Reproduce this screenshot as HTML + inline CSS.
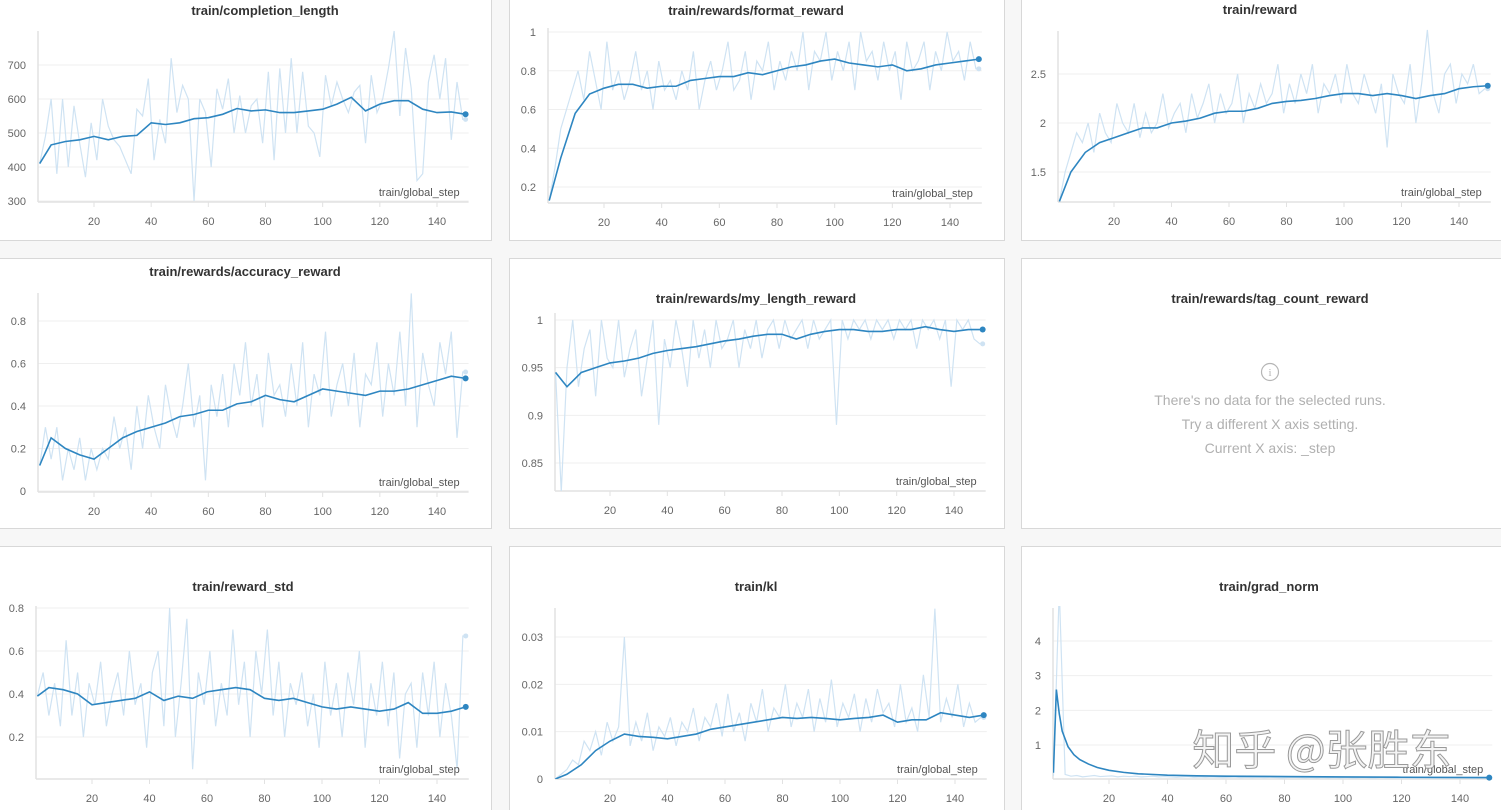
<!DOCTYPE html>
<html><head><meta charset="utf-8">
<style>
html,body{margin:0;padding:0;background:#f7f7f7;width:1501px;height:810px;overflow:hidden;font-family:"Liberation Sans","Noto Sans CJK SC",sans-serif;}
svg{display:block}
</style></head>
<body>
<svg id="root" width="1501" height="810" viewBox="0 0 1501 810" xmlns="http://www.w3.org/2000/svg">
<g id="panels"></g>
<g id="charts"></g>
<g>
<circle cx="1270" cy="372" r="8.5" fill="none" stroke="#b5b5b5" stroke-width="1.2"/>
<text x="1270" y="376" text-anchor="middle" font-size="11" fill="#b5b5b5" font-family="Liberation Serif, serif">i</text>
<text x="1270" y="405" text-anchor="middle" font-size="14" fill="#b0b0b0">There's no data for the selected runs.</text>
<text x="1270" y="429" text-anchor="middle" font-size="14" fill="#b0b0b0">Try a different X axis setting.</text>
<text x="1270" y="453" text-anchor="middle" font-size="14" fill="#b0b0b0">Current X axis: _step</text>
</g>
<text x="1322" y="765" text-anchor="middle" font-size="42" fill="#f4f4f4" stroke="#9a9a9a" stroke-width="1" font-family="Noto Sans CJK SC, sans-serif">知乎 @张胜东</text>
</svg>
<script>
// ---- data ----
const c1Smooth = [410,465,475,480,490,480,490,493,530,525,530,542,545,555,572,565,568,560,560,565,570,585,605,565,585,595,595,570,560,562,555];
const c1Raw = [410,490,600,380,600,400,580,470,370,530,420,600,520,480,460,420,380,570,550,660,420,540,470,720,560,640,600,300,600,560,400,630,570,660,500,610,500,580,600,470,680,420,690,500,720,500,680,520,500,430,670,580,650,600,560,620,640,470,670,560,600,690,800,550,750,630,360,380,650,730,600,720,480,650,540];
const c2Smooth = [0.13,0.35,0.58,0.68,0.71,0.73,0.73,0.71,0.72,0.72,0.75,0.76,0.77,0.77,0.79,0.78,0.80,0.82,0.83,0.85,0.86,0.84,0.83,0.82,0.83,0.80,0.81,0.83,0.84,0.85,0.86];
const c2Raw = [0.13,0.3,0.5,0.6,0.7,0.8,0.65,0.9,0.75,0.6,0.95,0.7,0.8,0.65,0.75,0.9,0.7,0.8,0.6,0.85,0.7,0.75,0.65,0.8,0.7,0.9,0.6,0.75,0.85,0.7,0.8,0.95,0.7,0.75,0.9,0.65,0.85,0.8,0.95,0.7,0.85,0.75,0.9,0.8,1.0,0.7,0.9,0.85,1.0,0.75,0.9,0.8,0.95,0.7,1.0,0.85,0.9,0.75,0.95,0.8,0.9,0.65,0.95,0.8,0.85,0.95,0.7,0.9,0.8,1.0,0.85,0.9,0.75,0.95,0.81];
const c3Smooth = [1.2,1.5,1.7,1.8,1.85,1.9,1.95,1.95,2.0,2.02,2.05,2.1,2.12,2.12,2.15,2.2,2.22,2.23,2.25,2.28,2.3,2.3,2.28,2.3,2.28,2.25,2.28,2.3,2.35,2.37,2.38];
const c3Raw = [1.2,1.5,1.7,1.9,1.8,2.0,1.7,2.1,1.9,1.8,2.2,2.0,1.9,2.2,1.85,2.1,1.9,2.0,2.3,1.95,2.1,2.2,1.9,2.3,2.05,2.2,2.4,2.0,2.3,2.1,2.2,2.5,2.0,2.3,2.15,2.4,2.2,2.3,2.6,2.1,2.4,2.2,2.5,2.3,2.6,2.1,2.4,2.3,2.5,2.2,2.6,2.3,2.2,2.5,2.3,2.1,2.4,1.75,2.5,2.3,2.2,2.6,2.0,2.4,2.95,2.3,2.1,2.5,2.6,2.2,2.5,2.4,2.6,2.3,2.35];
const c4Smooth = [0.12,0.25,0.2,0.17,0.15,0.2,0.25,0.28,0.3,0.32,0.35,0.36,0.38,0.38,0.41,0.42,0.45,0.43,0.42,0.45,0.48,0.47,0.46,0.45,0.47,0.47,0.48,0.5,0.52,0.54,0.53];
const c4Raw = [0.12,0.3,0.15,0.3,0.05,0.2,0.1,0.25,0.05,0.2,0.1,0.2,0.15,0.35,0.2,0.3,0.1,0.4,0.2,0.45,0.3,0.2,0.5,0.35,0.25,0.4,0.6,0.3,0.45,0.05,0.5,0.35,0.55,0.3,0.6,0.45,0.7,0.4,0.55,0.3,0.65,0.45,0.5,0.35,0.6,0.4,0.7,0.3,0.55,0.45,0.75,0.35,0.5,0.6,0.4,0.65,0.3,0.55,0.5,0.7,0.35,0.6,0.45,0.75,0.4,0.93,0.3,0.65,0.5,0.4,0.7,0.55,0.75,0.25,0.56];
const c5Smooth = [0.945,0.93,0.945,0.95,0.955,0.957,0.96,0.965,0.968,0.97,0.972,0.975,0.978,0.98,0.983,0.985,0.985,0.98,0.985,0.988,0.99,0.99,0.988,0.988,0.99,0.99,0.993,0.99,0.988,0.99,0.99];
const c5Raw = [0.945,0.82,0.95,1.0,0.93,0.97,0.99,0.92,1.0,0.96,0.95,1.0,0.94,0.97,0.99,0.92,0.96,1.0,0.89,0.98,0.95,1.0,0.97,0.93,1.0,0.96,0.99,0.95,1.0,0.97,0.98,1.0,0.95,0.99,0.97,1.0,0.96,0.99,1.0,0.97,1.0,0.98,0.99,1.0,0.97,1.0,0.98,0.99,1.0,0.89,1.0,0.98,1.0,0.99,1.0,0.98,1.0,0.99,1.0,0.98,1.0,0.99,1.0,0.97,1.0,0.99,1.0,0.98,1.0,0.93,1.0,0.99,1.0,0.98,0.975];
const c7Smooth = [0.39,0.43,0.42,0.4,0.35,0.36,0.37,0.38,0.41,0.37,0.39,0.38,0.41,0.42,0.43,0.42,0.38,0.37,0.38,0.36,0.34,0.33,0.34,0.33,0.32,0.33,0.36,0.31,0.31,0.32,0.34];
const c7Raw = [0.39,0.5,0.3,0.45,0.25,0.65,0.3,0.5,0.2,0.45,0.35,0.55,0.25,0.4,0.5,0.3,0.6,0.35,0.45,0.15,0.5,0.6,0.25,0.8,0.2,0.45,0.75,0.05,0.5,0.35,0.6,0.25,0.45,0.3,0.7,0.35,0.55,0.2,0.6,0.4,0.7,0.3,0.55,0.2,0.45,0.35,0.5,0.25,0.4,0.15,0.55,0.3,0.45,0.2,0.5,0.35,0.6,0.15,0.45,0.3,0.55,0.25,0.5,0.1,0.4,0.45,0.15,0.5,0.3,0.55,0.2,0.45,0.3,0.05,0.67];
const c8Smooth = [0,0.001,0.003,0.006,0.008,0.0095,0.009,0.0088,0.0085,0.009,0.0095,0.0105,0.011,0.0115,0.012,0.0125,0.013,0.0128,0.013,0.0128,0.0125,0.0128,0.013,0.0135,0.012,0.0125,0.0125,0.014,0.0135,0.013,0.0135];
const c8Raw = [0,0.001,0.002,0.004,0.003,0.008,0.006,0.01,0.005,0.012,0.008,0.011,0.03,0.007,0.012,0.008,0.014,0.006,0.011,0.009,0.013,0.007,0.012,0.01,0.015,0.008,0.013,0.011,0.016,0.009,0.018,0.01,0.014,0.008,0.016,0.012,0.019,0.01,0.015,0.013,0.02,0.011,0.016,0.013,0.019,0.01,0.017,0.012,0.021,0.011,0.016,0.013,0.018,0.01,0.017,0.012,0.019,0.014,0.016,0.011,0.02,0.012,0.015,0.01,0.022,0.013,0.036,0.012,0.017,0.013,0.02,0.011,0.016,0.012,0.013];
const c9SmoothSteps = [1,2,3,4,6,8,10,13,16,20,25,30,40,50,60,80,100,120,150];
const c9Smooth = [0.2,2.6,1.9,1.4,0.95,0.72,0.58,0.45,0.35,0.27,0.21,0.17,0.13,0.11,0.1,0.09,0.08,0.07,0.06];
const c9Raw = [0.1,5.5,0.15,0.1,0.12,0.08,0.1,0.12,0.09,0.1,0.11,0.08,0.1,0.09,0.1,0.08,0.09,0.1,0.08,0.09,0.08,0.07,0.08,0.09,0.07,0.08,0.07,0.08,0.07,0.06,0.07,0.08,0.06,0.07,0.06,0.07,0.06,0.07,0.06,0.05,0.06,0.07,0.06,0.05,0.06,0.05,0.06,0.05,0.06,0.05,0.06,0.05,0.05,0.06,0.05,0.05,0.06,0.05,0.05,0.04,0.05,0.05,0.04,0.05,0.05,0.04,0.05,0.04,0.05,0.04,0.05,0.04,0.04,0.05,0.04];
const xTicks = [20,40,60,80,100,120,140];
const smoothStepsStd = [1,5,10,15,20,25,30,35,40,45,50,55,60,65,70,75,80,85,90,95,100,105,110,115,120,125,130,135,140,145,150];

const NS = 'http://www.w3.org/2000/svg';
function mk(tag, attrs, parent){const e=document.createElementNS(NS,tag);for(const k in attrs)e.setAttribute(k,attrs[k]);if(parent)parent.appendChild(e);return e;}

// panels
const panelsG = document.getElementById('panels');
const panelBoxes = [
 ['panel-completion-length',-10,-10,501,250],['panel-format-reward',509,-10,495,250],['panel-reward',1021,-10,490,250],
 ['panel-accuracy-reward',-10,258,501,270],['panel-my-length-reward',509,258,495,270],['panel-tag-count-reward',1021,258,490,270],
 ['panel-reward-std',-10,546,501,280],['panel-kl',509,546,495,280],['panel-grad-norm',1021,546,490,280]
];
panelBoxes.forEach(p=>{
 const r=mk('rect',{x:p[1]+0.5,y:p[2]+0.5,width:p[3],height:p[4],fill:'#fff',stroke:'#d8d8d8','stroke-width':1},panelsG);
 
 
});
const titles=[['train/rewards/tag_count_reward',1270,303]];
titles.forEach(t=>{const e=mk('text',{x:t[1],y:t[2],'text-anchor':'middle','font-size':13,'font-weight':'bold',fill:'#333'},panelsG);e.textContent=t[0];
 
 });

const charts = [
 {name:'completion-length',title:'train/completion_length',tx:265,ty:15,x20:94,x140:437,v1:700,p1:65,v2:300,p2:201,top:31,bot:202,left:38,ticks:[300,400,500,600,700],fmt:v=>String(v),tickY:225,smoothSteps:smoothStepsStd,smooth:c1Smooth,raw:c1Raw},
 {name:'format-reward',title:'train/rewards/format_reward',tx:756,ty:15,x20:604,x140:950,v1:1,p1:32,v2:0.2,p2:187,top:28,bot:203,left:548,ticks:[0.2,0.4,0.6,0.8,1],fmt:v=>String(v),tickY:226,smoothSteps:smoothStepsStd,smooth:c2Smooth,raw:c2Raw},
 {name:'reward',title:'train/reward',tx:1260,ty:14,x20:1114,x140:1459,v1:2.5,p1:74,v2:1.5,p2:172,top:31,bot:202,left:1058,ticks:[1.5,2,2.5],fmt:v=>String(v),tickY:225,smoothSteps:smoothStepsStd,smooth:c3Smooth,raw:c3Raw},
 {name:'accuracy-reward',title:'train/rewards/accuracy_reward',tx:245,ty:276,x20:94,x140:437,v1:0.8,p1:321,v2:0,p2:491,top:293,bot:492,left:38,ticks:[0,0.2,0.4,0.6,0.8],fmt:v=>String(v),tickY:515,smoothSteps:smoothStepsStd,smooth:c4Smooth,raw:c4Raw},
 {name:'my-length-reward',title:'train/rewards/my_length_reward',tx:756,ty:303,x20:610,x140:954,v1:1,p1:320,v2:0.85,p2:463,top:313,bot:491,left:555,ticks:[0.85,0.9,0.95,1],fmt:v=>String(v),tickY:514,smoothSteps:smoothStepsStd,smooth:c5Smooth,raw:c5Raw},
 {name:'reward-std',title:'train/reward_std',tx:243,ty:591,x20:92,x140:437,v1:0.8,p1:608,v2:0.2,p2:737,top:606,bot:779,left:36,ticks:[0.2,0.4,0.6,0.8],fmt:v=>String(v),tickY:802,smoothSteps:smoothStepsStd,smooth:c7Smooth,raw:c7Raw},
 {name:'kl',title:'train/kl',tx:756,ty:591,x20:610,x140:955,v1:0.03,p1:637,v2:0,p2:779,top:608,bot:779,left:555,ticks:[0,0.01,0.02,0.03],fmt:v=>String(v),tickY:802,smoothSteps:smoothStepsStd,smooth:c8Smooth,raw:c8Raw},
 {name:'grad-norm',title:'train/grad_norm',tx:1269,ty:591,x20:1109,x140:1460,v1:4,p1:641,v2:1,p2:745,top:608,bot:779,left:1053,ticks:[1,2,3,4],fmt:v=>String(v),tickY:802,smoothSteps:c9SmoothSteps,smooth:c9Smooth,raw:c9Raw}
];

const chartsG=document.getElementById('charts');
charts.forEach((c,ci)=>{
 const g=mk('g',{},chartsG);
 
 
 const xs=s=>c.x20+(s-20)*(c.x140-c.x20)/120;
 const ys=v=>c.p2+(v-c.v2)*(c.p1-c.p2)/(c.v1-c.v2);
 const right=xs(150)+3;
 const t=mk('text',{x:c.tx,y:c.ty,'text-anchor':'middle','font-size':13,'font-weight':'bold',fill:'#333'},g);
 t.textContent=c.title;
 
 
 // grid + y ticks
 c.ticks.forEach(v=>{
  const y=ys(v);
  mk('line',{x1:c.left,x2:right,y1:y,y2:y,stroke:'#efefef','stroke-width':1},g);
  const tl=mk('text',{x:c.left-12,y:y+4,'text-anchor':'end','font-size':11,fill:'#666'},g);
  tl.textContent=c.fmt(v);
  
  
 });
 xTicks.forEach(s=>{
  const x=xs(s);
  mk('line',{x1:x,x2:x,y1:c.bot,y2:c.bot+5,stroke:'#e2e2e2'},g);
  const tl=mk('text',{x:x,y:c.tickY,'text-anchor':'middle','font-size':11,fill:'#666'},g);
  tl.textContent=String(s);
  
  
 });
 mk('line',{x1:c.left,x2:c.left,y1:c.top,y2:c.bot,stroke:'#e2e2e2','stroke-width':1.5},g);
 mk('line',{x1:c.left,x2:right,y1:c.bot,y2:c.bot,stroke:'#e2e2e2','stroke-width':1.5},g);
 // clip
 const cid='clip'+ci;
 const cp=mk('clipPath',{id:cid},g);
 mk('rect',{x:c.left,y:c.top-2,width:right-c.left+6,height:c.bot-c.top+2},cp);
 const raw=c.raw.map((v,i)=>[xs(1+2*i),ys(v)]);
 raw.push([xs(150),ys(c.raw[c.raw.length-1])]);
 const rl=mk('polyline',{points:raw.map(p=>p.join(',')).join(' '),fill:'none',stroke:'#cfe3f3','stroke-width':1.2,'clip-path':'url(#'+cid+')'},g);
 
 
 const sm=c.smooth.map((v,i)=>[xs(c.smoothSteps[i]),ys(v)]);
 const sl=mk('polyline',{points:sm.map(p=>p.join(',')).join(' '),fill:'none',stroke:'#2e86c1','stroke-width':1.6,'clip-path':'url(#'+cid+')'},g);
 
 
 const lr=raw[raw.length-1];
 mk('circle',{cx:lr[0],cy:lr[1],r:2.5,fill:'#cfe3f3'},g);
 const ls=sm[sm.length-1];
 const d=mk('circle',{cx:ls[0],cy:ls[1],r:3,fill:'#2e86c1'},g);
 
 
 const xl=mk('text',{x:xs(150)-6,y:c.bot-6,'text-anchor':'end','font-size':11,fill:'#555'},g);
 xl.textContent='train/global_step';
 
 
});
</script>
</body></html>
